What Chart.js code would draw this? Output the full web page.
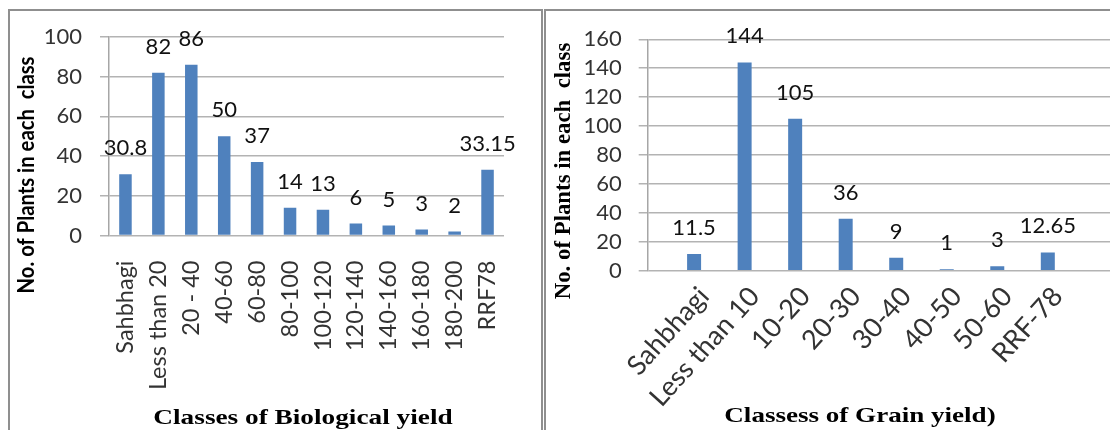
<!DOCTYPE html>
<html><head><meta charset="utf-8">
<script src="https://cdn.jsdelivr.net/npm/chart.js@4.4.0/dist/chart.umd.min.js"></script>
<style>
html,body{margin:0;padding:0;background:#fff;width:1110px;height:430px;overflow:hidden;position:relative}
.panel{position:absolute;border:2px solid #8f8f8f;box-sizing:border-box}
#p1{left:8px;top:9px;width:535px;height:440px}
#p2{left:544px;top:9px;width:600px;height:440px}
canvas{position:absolute;top:0}
#c1{left:0}
#c2{left:545px}
</style></head><body>
<div class="panel" id="p1"></div><div class="panel" id="p2"></div>
<canvas id="c1" width="545" height="430"></canvas>
<canvas id="c2" width="565" height="430"></canvas>
<script>
const bioCategories = ['Sahbhagi','Less than 20','20 - 40','40-60','60-80','80-100','100-120','120-140','140-160','160-180','180-200','RRF78'];
const bioValues = [30.8, 82, 86, 50, 37, 14, 13, 6, 5, 3, 2, 33.15];
const bioTicks = [0, 20, 40, 60, 80, 100];

const grainCategories = ['Sahbhagi','Less than 10','10-20','20-30','30-40','40-50','50-60','RRF-78'];
const grainValues = [11.5, 144, 105, 36, 9, 1, 3, 12.65];
const grainTicks = [0, 20, 40, 60, 80, 100, 120, 140, 160];

const BAR = '#4f81bd';
const TICKFONT = {family:'Lato', size:22};
const TICKCOLOR = '#333';

const valueLabels = {
  id:'valueLabels',
  afterDatasetsDraw(chart, args, opts){
    const ctx = chart.ctx, meta = chart.getDatasetMeta(0), ds = chart.data.datasets[0].data;
    ctx.save();
    ctx.font = opts.font; ctx.fillStyle = opts.color;
    ctx.textAlign = 'center'; ctx.textBaseline = 'alphabetic';
    meta.data.forEach((bar, i) => {
      const d = ds[i]; const v = (typeof d === 'object') ? d.y : d;
      ctx.fillText(String(v), bar.x, bar.y - opts.gap);
    });
    ctx.restore();
  }
};
const axisTitles = {
  id:'axisTitles',
  afterDraw(chart, args, opts){
    const ctx = chart.ctx;
    (opts.items||[]).forEach(t => {
      ctx.save();
      ctx.font = t.font; ctx.fillStyle = '#000';
      ctx.textAlign = 'center'; ctx.textBaseline = t.baseline || 'alphabetic';
      ctx.translate(t.x, t.y);
      if (t.rotate) ctx.rotate(t.rotate);
      if (t.sx) ctx.scale(t.sx, 1);
      ctx.fillText(t.text, 0, 0);
      ctx.restore();
    });
  }
};

new Chart(document.getElementById('c1'), {
  type:'bar',
  data:{labels:bioCategories, datasets:[{data:bioValues, backgroundColor:BAR, categoryPercentage:1, barPercentage:0.38}]},
  plugins:[valueLabels, axisTitles],
  options:{
    responsive:false, animation:false, devicePixelRatio:1,
    layout:{padding:{left:0, top:37, right:41, bottom:0}},
    plugins:{
      legend:{display:false}, tooltip:{enabled:false},
      valueLabels:{font:'22px Lato', color:'#111', gap:19},
      axisTitles:{items:[
        {text:'No. of Plants in each  class', font:'bold 23px Lato', x:27, y:175, rotate:-Math.PI/2, baseline:'middle', sx:0.88},
        {text:'Classes of Biological yield', font:'bold 22px "Liberation Serif"', x:303, y:424, sx:1.24}
      ]}
    },
    scales:{
      x:{
        grid:{display:false, drawTicks:false}, border:{display:false},
        ticks:{font:{family:'Lato', size:23.5}, color:TICKCOLOR, minRotation:90, maxRotation:90, padding:25, autoSkip:false},
        afterFit(s){ s.height = 194.5; }
      },
      y:{
        min:0, max:100,
        afterBuildTicks(s){ s.ticks = bioTicks.map(v => ({value:v})); },
        grid:{color:'#b3b3b3', lineWidth:1.5, tickLength:9},
        border:{display:true, color:'#a6a6a6', width:1.5},
        ticks:{font:TICKFONT, color:TICKCOLOR, padding:18, autoSkip:false},
        afterFit(s){ s.width = 109; }
      }
    }
  }
});

new Chart(document.getElementById('c2'), {
  type:'bar',
  data:{datasets:[{data:grainValues.map((v,i)=>({x:i, y:v})), backgroundColor:BAR, categoryPercentage:1, barPercentage:0.277}]},
  plugins:[valueLabels, axisTitles],
  options:{
    responsive:false, animation:false, devicePixelRatio:1,
    layout:{padding:{left:0, top:39.3, right:0, bottom:0}},
    plugins:{
      legend:{display:false}, tooltip:{enabled:false},
      valueLabels:{font:'22px Lato', color:'#111', gap:19},
      axisTitles:{items:[
        {text:'No. of Plants in each  class', font:'bold 24px "Liberation Serif"', x:19, y:171, rotate:-Math.PI/2, baseline:'middle', sx:0.95},
        {text:'Classess of Grain yield)', font:'bold 22px "Liberation Serif"', x:315, y:422, sx:1.23}
      ]}
    },
    scales:{
      x:{
        type:'linear', min:-0.3463, max:7.659,
        afterBuildTicks(s){ s.ticks = grainCategories.map((c,i) => ({value:i})); },
        grid:{display:false, drawTicks:false}, border:{display:false},
        ticks:{font:{family:'Lato', size:27}, color:TICKCOLOR, minRotation:48, maxRotation:48, padding:10, labelOffset:10, autoSkip:false,
               callback:(v) => grainCategories[v]},
        afterFit(s){ s.height = 430 - 270.7; }
      },
      y:{
        min:0, max:160,
        afterBuildTicks(s){ s.ticks = grainTicks.map(v => ({value:v})); },
        grid:{color:'#b3b3b3', lineWidth:1.5, tickLength:9},
        border:{display:true, color:'#a6a6a6', width:1.5},
        ticks:{font:TICKFONT, color:TICKCOLOR, padding:17, autoSkip:false},
        afterFit(s){ s.width = 102.7; }
      }
    }
  }
});
</script>
</body></html>
